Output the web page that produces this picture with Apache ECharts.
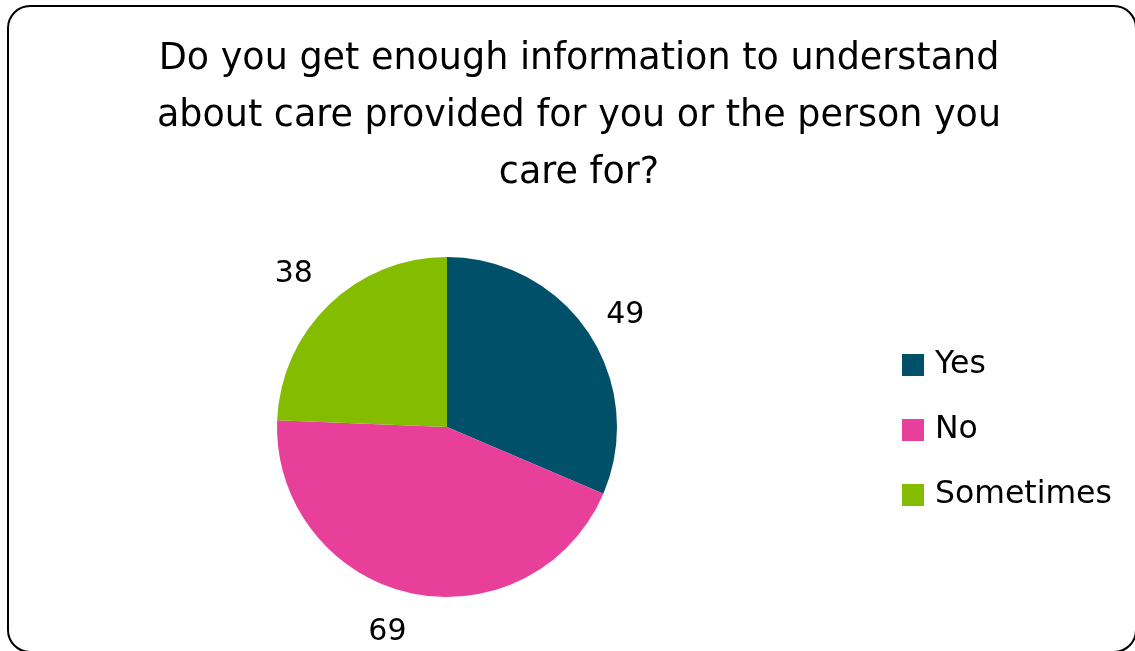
<!DOCTYPE html>
<html>
<head>
<meta charset="utf-8">
<script src="https://cdn.jsdelivr.net/npm/echarts@6/dist/echarts.min.js"></script>
<style>
  html, body { margin: 0; padding: 0; background: #fff; }
  #chart { width: 1135px; height: 651px; }
</style>
</head>
<body>
<div id="chart"></div>
<script>
// Survey answers
const categories = ['Yes', 'No', 'Sometimes'];
const counts = [49, 69, 38];
const colors = ['#005069', '#E8409A', '#84BD00'];
const titleText = 'Do you get enough information to understand\nabout care provided for you or the person you\ncare for?';

const FONT = 'DejaVu Sans';

// small nudges for the value labels around the pie
const labelNudge = [[-11, -3], [8, 12], [8, -10]];

const chart = echarts.init(document.getElementById('chart'), null, { renderer: 'canvas' });

chart.setOption({
  animation: false,
  backgroundColor: '#ffffff',
  graphic: [{
    type: 'rect',
    shape: { x: 8, y: 6, width: 1128, height: 646, r: 22 },
    style: { fill: 'none', stroke: '#000000', lineWidth: 2 },
    z: 0
  }],
  title: {
    text: titleText,
    left: 574,
    top: 26,
    textAlign: 'center',
    textStyle: {
      fontFamily: FONT,
      fontSize: 36.5,
      fontWeight: 'normal',
      color: '#000000',
      lineHeight: 57
    }
  },
  legend: {
    orient: 'vertical',
    left: 897,
    top: 344,
    itemWidth: 22,
    itemHeight: 22,
    itemGap: 33,
    icon: 'rect',
    data: categories,
    textStyle: {
      fontFamily: FONT,
      fontSize: 31.5,
      color: '#000000',
      padding: [0, 0, 0, 6]
    }
  },
  series: [{
    type: 'pie',
    center: [447, 427],
    radius: 170,
    startAngle: 90,
    clockwise: true,
    data: categories.map((name, i) => ({
      name: name,
      value: counts[i],
      itemStyle: { color: colors[i] }
    })),
    label: {
      show: true,
      position: 'outside',
      formatter: '{c}',
      fontFamily: FONT,
      fontSize: 30,
      color: '#000000'
    },
    labelLine: { show: false, length: 28, length2: 0 },
    labelLayout: function (params) {
      const n = labelNudge[params.dataIndex];
      return { dx: n[0], dy: n[1] };
    },
    emphasis: { disabled: true }
  }]
});
</script>
</body>
</html>
